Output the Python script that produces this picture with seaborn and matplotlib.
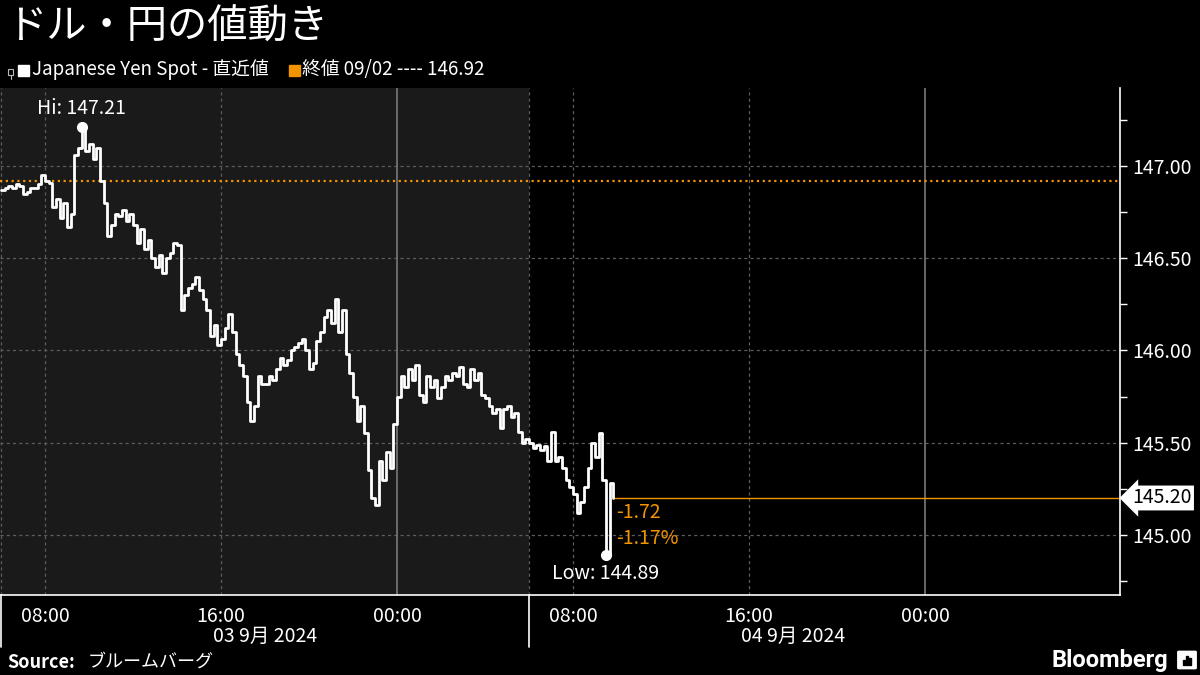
"""USD/JPY intraday chart in the Bloomberg dark style."""

import numpy as np
import pandas as pd
import matplotlib
matplotlib.use("Agg")
import matplotlib.pyplot as plt
import matplotlib.dates as mdates
import matplotlib.transforms as mtransforms
from matplotlib.patches import Rectangle, FancyBboxPatch
import seaborn as sns

title = "ドル・円の値動き"
series_name = "Japanese Yen Spot - 直近値"
prev_close_label = "終値 09/02 ---- 146.92"
prev_close = 146.92
start_time = "2024-09-03 06:00"
step = "10min"

# 10-minute readings, 06:00 Sep 3 -> 09:50 Sep 4 (one row per hour)
usdjpy = [
    146.87, 146.88, 146.89, 146.88, 146.90, 146.89,
    146.85, 146.86, 146.88, 146.88, 146.90, 146.95,
    146.92, 146.91, 146.78, 146.82, 146.72, 146.80,
    146.67, 146.74, 147.06, 147.10, 147.21, 147.08,
    147.12, 147.04, 147.10, 146.92, 146.80, 146.62,
    146.68, 146.74, 146.73, 146.76, 146.70, 146.74,
    146.68, 146.58, 146.66, 146.55, 146.60, 146.50,
    146.45, 146.52, 146.42, 146.50, 146.53, 146.58,
    146.57, 146.22, 146.30, 146.34, 146.36, 146.40,
    146.33, 146.28, 146.22, 146.08, 146.14, 146.03,
    146.06, 146.12, 146.20, 146.10, 145.98, 145.92,
    145.86, 145.72, 145.62, 145.70, 145.86, 145.82,
    145.82, 145.86, 145.84, 145.90, 145.96, 145.92,
    145.95, 146.00, 146.02, 146.04, 146.06, 146.00,
    145.90, 145.93, 146.05, 146.10, 146.18, 146.22,
    146.15, 146.28, 146.10, 146.22, 145.98, 145.88,
    145.75, 145.62, 145.70, 145.55, 145.35, 145.20,
    145.16, 145.40, 145.30, 145.45, 145.36, 145.60,
    145.75, 145.86, 145.80, 145.90, 145.84, 145.92,
    145.76, 145.72, 145.86, 145.80, 145.84, 145.74,
    145.80, 145.86, 145.84, 145.88, 145.86, 145.91,
    145.82, 145.80, 145.90, 145.84, 145.88, 145.76,
    145.74, 145.70, 145.66, 145.68, 145.58, 145.68,
    145.70, 145.64, 145.66, 145.56, 145.50, 145.52,
    145.50, 145.47, 145.49, 145.46, 145.48, 145.40,
    145.56, 145.40, 145.42, 145.36, 145.30, 145.26,
    145.22, 145.12, 145.18, 145.26, 145.36, 145.50,
    145.42, 145.55, 145.30, 144.89, 145.28, 145.20,
]

y_ticks = [145.0, 145.5, 146.0, 146.5, 147.0]
y_minor = [144.75, 145.25, 145.75, 146.25, 146.75, 147.25]
y_range = (144.674, 147.423)
x_range = ("2024-09-03 05:57", "2024-09-05 08:52")
x_ticks = pd.date_range("2024-09-03 08:00", "2024-09-05 04:00", freq="4h")
session_starts = ["2024-09-03 06:00", "2024-09-04 06:00", "2024-09-05 06:00"]
date_labels = ["03 9月 2024", "04 9月 2024"]
grid_hours = ["2024-09-03 08:00", "2024-09-03 16:00", "2024-09-04 08:00", "2024-09-04 16:00"]
midnights = ["2024-09-04 00:00", "2024-09-05 00:00"]

ORANGE = "#F29400"
GRID = "#5c5c5c"
SHADE = "#1a1a1a"
FONTS = ["Noto Sans CJK JP", "DejaVu Sans"]
FS = 14


def px(x, y):
    """Figure pixel -> figure fraction."""
    return x / 1200, 1 - y / 675


sns.set_style("dark", {"axes.facecolor": "black", "figure.facecolor": "black"})
plt.rcParams["font.family"] = FONTS

times = pd.date_range(start_time, periods=len(usdjpy), freq=step)
df = pd.DataFrame({"time": times, "price": usdjpy})
ts = lambda s: pd.Timestamp(s)

fig = plt.figure(figsize=(12, 6.75), dpi=100)
ax = fig.add_axes([0, 1 - 595 / 675, 1120 / 1200, 507 / 675])
ax.set_xlim(ts(x_range[0]), ts(x_range[1]))
ax.set_ylim(*y_range)

# previous session shading
ax.axvspan(ts(x_range[0]), ts(session_starts[1]), color=SHADE, zorder=0, lw=0)

# grid
for y in y_ticks:
    ax.axhline(y, color=GRID, lw=0.9, ls=(0, (2.5, 2.5)), zorder=1)
for t in grid_hours + session_starts[:2]:
    ax.axvline(ts(t), color=GRID, lw=0.9, ls=(0, (2.5, 2.5)), zorder=1)
for t in midnights:
    ax.axvline(ts(t), color="#7a7a7a", lw=1.2, zorder=1)

# reference lines
ax.axhline(prev_close, color=ORANGE, lw=1.6, ls=(0, (1, 1.6)), zorder=2)
last_t, last = df["time"].iloc[-1], df["price"].iloc[-1]
ax.plot([last_t, ts(x_range[1])], [last, last], color=ORANGE, lw=1, zorder=2)

sns.lineplot(data=df, x="time", y="price", ax=ax, color="white", lw=2,
             drawstyle="steps-post", legend=False, zorder=5)

# hi / low markers
i_hi, i_lo = df["price"].idxmax(), df["price"].idxmin()
for i, lab, dy, va in [(i_hi, "Hi", 6, "bottom"), (i_lo, "Low", -6, "top")]:
    t, v = df["time"][i], df["price"][i]
    ax.plot([t], [v], "o", color="white", ms=7, zorder=6)
    ax.annotate(f"{lab}: {v:.2f}", xy=(t, v), xytext=(0, dy), textcoords="offset points",
                ha="center", va=va, color="white", fontsize=FS)

chg = last - prev_close
pct = chg / prev_close * 100
ax.annotate(f"{chg:.2f}\n{pct:.2f}%", xy=(last_t, last), xytext=(2, -3),
            textcoords="offset points", ha="left", va="top", color=ORANGE,
            fontsize=FS, linespacing=1.3, zorder=6)

# right axis
ax.yaxis.tick_right()
ax.set_yticks(y_ticks)
ax.set_yticks(y_minor, minor=True)
ax.yaxis.set_major_formatter(lambda v, p: f"{v:.2f}")
ax.tick_params(axis="y", which="both", colors="white", length=5, width=1,
               labelsize=FS, pad=4, right=True, left=False)
ax.set_ylabel("")

# time axis
ax.set_xticks(x_ticks)
ax.set_xticklabels([t.strftime("%H:%M") if t.hour % 8 == 0 else "" for t in x_ticks])
ax.tick_params(axis="x", colors="white", length=4, width=1, labelsize=FS, pad=4)
ax.set_xlabel("")

for side in ["top", "left"]:
    ax.spines[side].set_visible(False)
for side in ["right", "bottom"]:
    ax.spines[side].set_color("white")
    ax.spines[side].set_linewidth(1.2)
ax.grid(False)

trans = mtransforms.blended_transform_factory(ax.transData, ax.transAxes)
for a, b, lab in zip(session_starts[:-1], session_starts[1:], date_labels):
    mid = ts(a) + (ts(b) - ts(a)) / 2
    ax.text(mid, -0.081, lab, transform=trans, ha="center", va="center",
            color="white", fontsize=FS)
for t in session_starts[:2]:
    ax.plot([ts(t), ts(t)], [0, -0.103], transform=trans, color="white", lw=1.2, clip_on=False)

# last value tag on the axis
ytrans = mtransforms.blended_transform_factory(ax.transAxes, ax.transData)
ax.annotate(f"{last:.2f}", xy=(1, last), xycoords=ytrans, xytext=(9, 0),
            textcoords="offset points", ha="left", va="center", color="black", fontsize=FS,
            bbox=dict(boxstyle="larrow,pad=0.1", fc="white", ec="none"), annotation_clip=False)

# header
fig.text(*px(6, 27), title, color="white", fontsize=29, va="center")
fig.patches.append(Rectangle(px(8, 75), 5 / 1200, 6 / 675, transform=fig.transFigure,
                             fill=False, ec="#bbbbbb", lw=0.8))
fig.lines.append(plt.Line2D([10.5 / 1200] * 2, [px(0, 75)[1], px(0, 79)[1]],
                            transform=fig.transFigure, color="#bbbbbb", lw=0.8))
fig.patches.append(Rectangle(px(18, 76), 11 / 1200, 11 / 675, transform=fig.transFigure,
                             color="white"))
fig.text(*px(32, 70), series_name, color="white", fontsize=13.5, va="center")
fig.patches.append(Rectangle(px(289, 76), 11 / 1200, 11 / 675, transform=fig.transFigure,
                             color=ORANGE))
fig.text(*px(302, 70), prev_close_label, color="white", fontsize=13.5, va="center")

# footer
fig.text(*px(7, 662), "Source:", color="white", fontsize=13, fontweight="bold", va="center")
fig.text(*px(88, 662), "ブルームバーグ", color="white", fontsize=13, va="center")
fig.text(*px(1168, 660), "Bloomberg", color="white", fontsize=17, fontweight="bold",
         ha="right", va="center", family=["Roboto", "DejaVu Sans"])
fig.patches.append(FancyBboxPatch(px(1179, 668), 16 / 1200, 16 / 675, transform=fig.transFigure,
                                  boxstyle="round,pad=0.001", color="white"))
for k, h in enumerate([5, 9, 7]):
    fig.patches.append(Rectangle(px(1183 + k * 3, 665), 2 / 1200, h / 675,
                                 transform=fig.transFigure, color="black"))

fig.savefig("out.png", dpi=100, facecolor="black")
